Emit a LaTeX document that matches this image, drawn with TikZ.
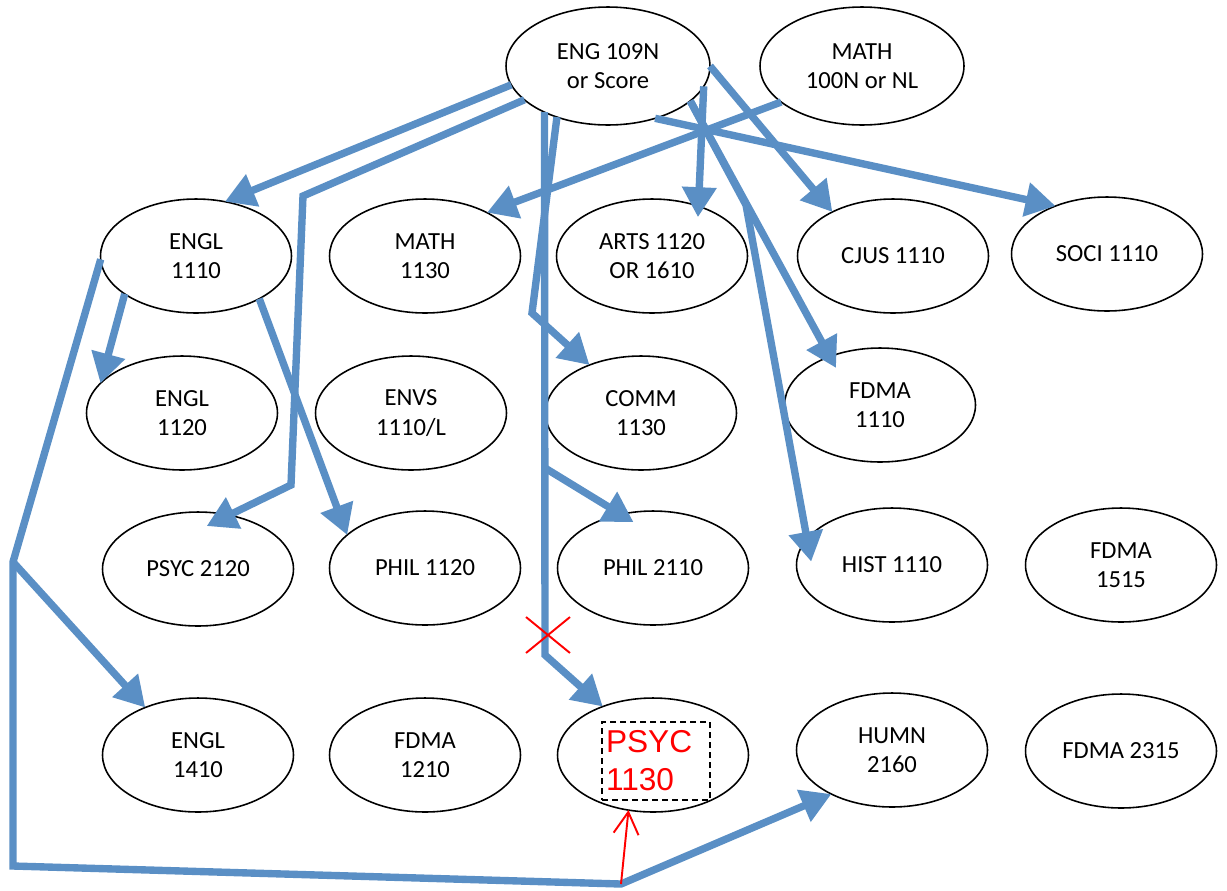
\documentclass[tikz,border=0pt]{standalone}
\usepackage{fontspec}
\setmainfont{Carlito}
\newfontfamily\tagfont{Liberation Sans}
\usepackage{tikz}
\usetikzlibrary{positioning, calc, shapes.geometric, shapes.misc, arrows.meta}
\definecolor{flowblue}{HTML}{5A8FC5}
\definecolor{markred}{HTML}{FF0000}

\begin{document}
\begin{tikzpicture}[
  x=0.02cm, y=-0.02cm,
  crs/.style={draw=black, line width=0.9pt, ellipse, fill=white,
              minimum width=3.82cm, minimum height=2.28cm,
              inner sep=0pt, outer sep=0pt, align=center,
              font=\fontsize{14}{16.7}\selectfont},
  entry/.style={crs, minimum width=4.08cm, minimum height=2.36cm},
  flow/.style={draw=flowblue, line width=4.2pt,
               -{Triangle[length=0.6cm, width=0.66cm]}},
  redarr/.style={draw=markred, line width=1.1pt,
                 -{Straight Barb[length=0.44cm, width=0.5cm]}},
  tagbox/.style={draw=black, line width=1.1pt, dash pattern=on 0.12cm off 0.08cm,
                 text=markred, align=left, text width=2.0cm,
                 inner xsep=0.08cm, inner ysep=0pt, minimum height=1.56cm,
                 font=\tagfont\fontsize{18}{21.6}\selectfont}
]
  \useasboundingbox (0,0) rectangle (1227,890);

  \node[entry] (eng) at (608,66) {ENG 109N\\or Score};
  \node[entry] (math100) at (862,66) {MATH\\100N or NL};

  \node[crs] (engl1110) at (196,256) {ENGL\\1110};
  \node[crs] (math1130) at (425,256) {MATH\\1130};
  \node[crs] (arts) at (652,256) {ARTS 1120\\OR 1610};
  \node[crs] (cjus) at (893,256) {CJUS 1110};
  \node[crs] (soci) at (1107,254) {SOCI 1110};

  \node[crs] (engl1120) at (182,413) {ENGL\\1120};
  \node[crs] (envs) at (411,413) {ENVS\\1110/L};
  \node[crs] (comm) at (641,413) {COMM\\1130};
  \node[crs] (fdma1110) at (880,405) {FDMA\\1110};

  \node[crs] (psyc2120) at (198,569) {PSYC 2120};
  \node[crs] (phil1120) at (425,568) {PHIL 1120};
  \node[crs] (phil2110) at (653,568) {PHIL 2110};
  \node[crs] (hist) at (892,565) {HIST 1110};
  \node[crs] (fdma1515) at (1121,565) {FDMA\\1515};

  \node[crs] (engl1410) at (198,755) {ENGL\\1410};
  \node[crs] (fdma1210) at (425,755) {FDMA\\1210};
  \node[crs] (psyc1130) at (653,755) {};
  \node[crs] (humn) at (892,750) {HUMN\\2160};
  \node[crs] (fdma2315) at (1121,751) {FDMA 2315};

  \node[tagbox] (psyclbl) at (656,761) {PSYC\\1130};

  \coordinate (b1) at (303,196);
  \coordinate (b2) at (291,485);
  \coordinate (b3) at (545,655);
  \coordinate (j1) at (545,468);
  \coordinate (b4) at (532,313);
  \coordinate (b5) at (746,205);
  \coordinate (k1) at (13,562);
  \coordinate (k2) at (13,866);
  \coordinate (k3) at (621,884);

  \draw[flow] (eng.191) -- (engl1110.62);
  \draw[flow, shorten >=-0.5cm] (eng.202) -- (b1) -- (b2) -- (psyc2120.60);
  \draw[flow] (eng.216) -- (b3) -- (psyc1130.136);
  \draw[flow, shorten >=-0.3cm] (j1) -- (phil2110.121);
  \draw[flow] (eng.225) -- (b4) -- (comm.137);
  \draw[flow, shorten >=-0.22cm] (eng.348) -- (arts.47);
  \draw[flow] (eng.0) -- (cjus.144);
  \draw[flow, shorten >=-0.26cm] (eng.337) -- (fdma1110.136);
  \draw[flow, shorten >=-0.46cm] (eng.337) -- (b5) -- (hist.163);
  \draw[flow] (eng.312) -- (soci.137);
  \draw[flow] (math100.204) -- (math1130.35);

  \draw[flow] (engl1110.208) -- (engl1120.160);
  \draw[flow] (engl1110.326) -- (phil1120.157);
  \draw[flow] (engl1110.182) -- (k1) -- (k2) -- (k3) -- (humn.216);
  \draw[flow] (k1) -- (engl1410.138);

  \node[cross out, draw=markred, line width=1.1pt, minimum width=0.84cm,
        minimum height=0.68cm, inner sep=0pt] (xmark) at (548,635) {};
  \draw[redarr] (k3) -- (psyc1130.246);
\end{tikzpicture}
\end{document}
